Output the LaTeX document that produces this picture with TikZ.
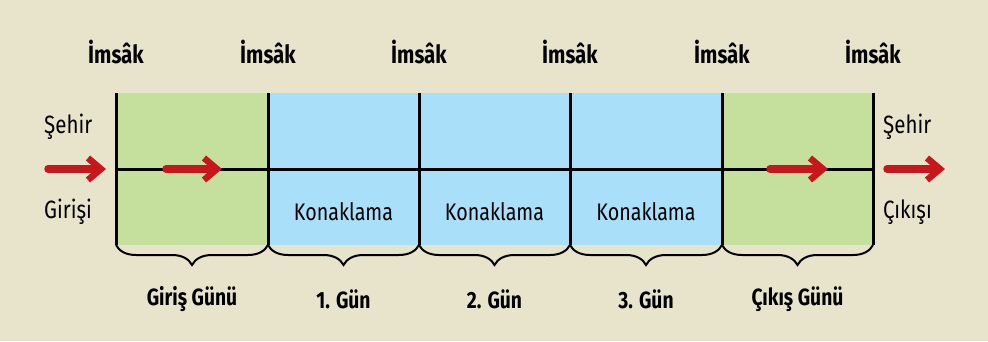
\documentclass[tikz,border=0pt]{standalone}
\usepackage{fontspec}
\setmainfont[FakeStretch=0.82]{Fira Sans}
\usetikzlibrary{arrows.meta,decorations.pathreplacing}
\definecolor{bg}{HTML}{E8E4CB}
\definecolor{grn}{HTML}{C5DF9C}
\definecolor{blu}{HTML}{A9DFF8}
\definecolor{arr}{HTML}{C8161D}
\tikzset{
  cell/.style={minimum width=152pt,minimum height=152pt,inner sep=0pt,outer sep=0pt,draw=none},
  grid/.style={line width=3pt},
  top/.style={font=\bfseries\fontsize{25}{28}\selectfont},
  side/.style={font=\fontsize{25}{28}\selectfont,anchor=west,inner sep=0pt},
  inlab/.style={font=\fontsize{24}{28}\selectfont},
  daylab/.style={font=\bfseries\fontsize{23.5}{28}\selectfont},
  redarrow/.style={draw=arr,line width=7.5pt,line cap=round,-{Straight Barb[length=13pt,width=22pt,line width=6.5pt,line cap=butt,line join=miter]}},
  bracket/.style={line width=2pt,decorate,decoration={brace,amplitude=20pt,mirror}}
}
\begin{document}
\begin{tikzpicture}[x=1pt,y=-1pt]
\fill[bg] (0,0) rectangle (988,341);
\useasboundingbox (0,0) rectangle (988,341);
% cells
\node[cell,fill=grn] (c0) at (192,169) {};
\node[cell,fill=blu] (c1) at (343.5,169) {};
\node[cell,fill=blu] (c2) at (494.5,169) {};
\node[cell,fill=blu] (c3) at (646,169) {};
\node[cell,fill=grn] (c4) at (797.5,169) {};
% coordinates of lines
\coordinate (t0) at (116,93);  \coordinate (b0) at (116,245);
\coordinate (t1) at (268,93);  \coordinate (b1) at (268,245);
\coordinate (t2) at (419,93);  \coordinate (b2) at (419,245);
\coordinate (t3) at (570,93);  \coordinate (b3) at (570,245);
\coordinate (t4) at (722,93);  \coordinate (b4) at (722,245);
\coordinate (t5) at (873,93);  \coordinate (b5) at (873,245);
\coordinate (ml) at (116,169); \coordinate (mr) at (873,169);
\foreach \i in {0,...,5} {\draw[grid] (t\i) -- (b\i);}
\draw[grid] (ml) -- (mr);
% braces
\foreach \i/\j in {0/1,1/2,2/3,3/4,4/5} {\draw[bracket] (b\i) -- (b\j);}
% top labels
\foreach \i/\x in {0/116,1/268,2/419,3/570,4/722,5/873} {\node[top] (im\i) at (\x,52) {İmsâk};}
% side labels
\node[side] (sl1) at (44,127) {Şehir};
\node[side] (sl2) at (44,212) {Girişi};
\node[side] (sr1) at (883,127) {Şehir};
\node[side] (sr2) at (883,212) {Çıkışı};
% konaklama
\node[inlab] (k1) at (343.5,212) {Konaklama};
\node[inlab] (k2) at (494.5,212) {Konaklama};
\node[inlab] (k3) at (646,212) {Konaklama};
% day labels
\node[daylab] (d0) at (192,299) {Giriş Günü};
\node[daylab] (d1) at (343.5,299) {1. Gün};
\node[daylab] (d2) at (494.5,299) {2. Gün};
\node[daylab] (d3) at (646,299) {3. Gün};
\node[daylab] (d4) at (797.5,299) {Çıkış Günü};
% arrows
\coordinate (a1s) at (48,169); \coordinate (a1e) at (106,169);
\coordinate (a2s) at (166,169); \coordinate (a2e) at (222,169);
\coordinate (a3s) at (770,169); \coordinate (a3e) at (828,169);
\coordinate (a4s) at (887,169); \coordinate (a4e) at (945,169);
\draw[redarrow] (a1s) -- (a1e);
\draw[redarrow] (a2s) -- (a2e);
\draw[redarrow] (a3s) -- (a3e);
\draw[redarrow] (a4s) -- (a4e);
\end{tikzpicture}
\end{document}
